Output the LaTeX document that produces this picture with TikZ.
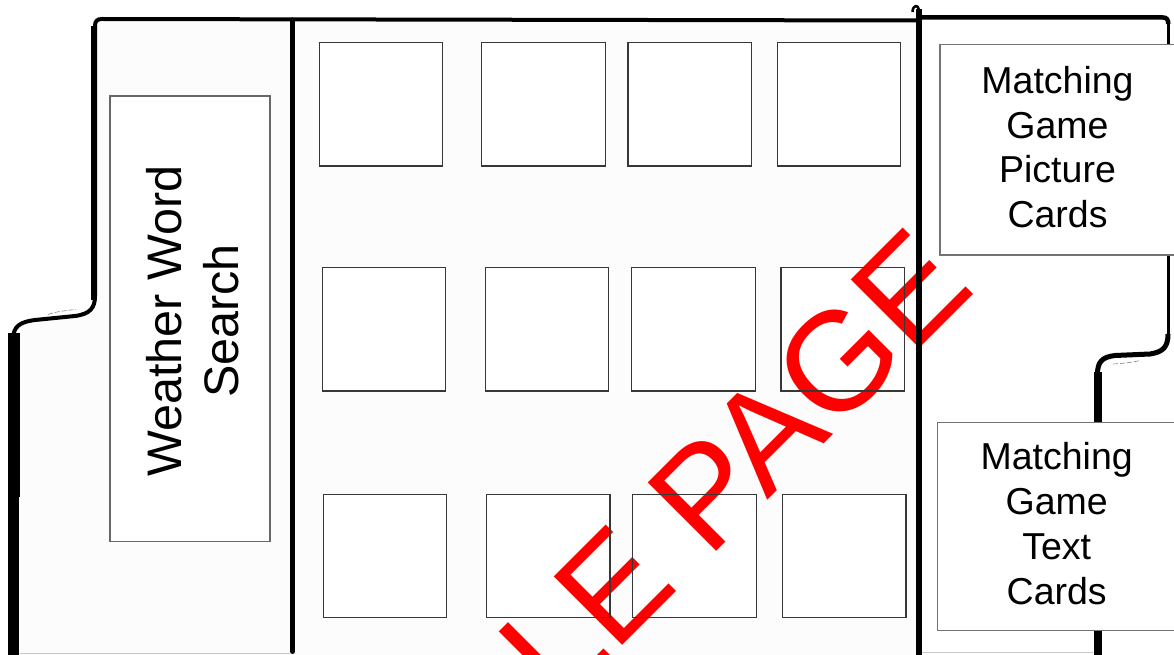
\documentclass[tikz,border=0pt]{standalone}
\usepackage{fontspec}
\newfontfamily\arialf{Liberation Sans}
\definecolor{panelbg}{RGB}{252,252,252}
\definecolor{cardedgecol}{RGB}{55,55,55}
\definecolor{boxedgecol}{RGB}{115,115,115}
\definecolor{faintcol}{RGB}{200,200,200}
\begin{document}
\begin{tikzpicture}[x=1pt,y=-1pt,
  cardbg/.style={fill=white, inner sep=0pt, outer sep=0pt, minimum width=123.5pt, minimum height=123.3pt, anchor=north west},
  cardline/.style={draw=cardedgecol, line width=1.1pt},
  boxbg/.style={fill=white, inner sep=0pt, outer sep=0pt, anchor=north west},
  boxline/.style={draw=boxedgecol, line width=1.4pt},
  heavy/.style={draw=black, line width=#1},
  sketch/.style={draw=gray, line width=0.6pt, dash pattern=on 5pt off 2pt},
  labeltext/.style={align=center, text=black, font=\arialf\fontsize{37.5}{44.8}\selectfont}
]
\useasboundingbox (0,0) rectangle (1174,655);
\clip (0,0) rectangle (1174,655);
\fill[white] (0,0) rectangle (1174,655);
% panel background
\fill[panelbg] (13,656) -- (13,338) .. controls (13,326) and (20,322) .. (35,320) -- (75,316) .. controls (90,314) and (95,308) .. (95,296) -- (95,26) .. controls (95,21) and (97,19) .. (102,19) -- (919,20) -- (919,656) -- cycle;

% box fills
\node[boxbg, minimum width=160pt, minimum height=445.5pt] (wws) at (110,96) {};
\node[boxbg, minimum width=240pt, minimum height=210.7pt] (picbox) at (940,44.3) {};
\node[boxbg, minimum width=242.3pt, minimum height=208.4pt] (txtbox) at (937.7,422.3) {};
\foreach \n/\x/\y in {a1/319.3/42.7, a2/481.7/42.7, a3/628/42.7, a4/777.3/42.7,
                      b1/322.3/267.7, b2/485.4/267.7, b3/631.8/267.7, b4/781/267.7,
                      c1/323.3/494.5, c2/486.5/494.5, c3/632.6/494.5, c4/782.5/494.5}
  \node[cardbg] (card\n) at (\x,\y) {};

% watermark
\node[anchor=base west, rotate=45, text=red, inner sep=0pt, outer sep=0pt,
      font=\arialf\fontsize{140.7}{140.7}\selectfont] (wm) at (277.2,990.9) {SAMPLE PAGE};

% outlines of boxes
\foreach \n in {a1,a2,a3,a4,b1,b2,b3,b4,c1,c2,c3,c4}
  \draw[cardline] (card\n.north west) rectangle (card\n.south east);
\draw[boxline, draw=boxedgecol!90!black] (wws.north west) rectangle (wws.south east);

% faint bottom edge
\draw[faintcol, line width=1pt] (20,653.5) -- (290,653.5);
\draw[faintcol, line width=1pt] (922,652.5) -- (1093,652.5);

% left panel outline
\draw[heavy=4pt, line join=round] (13,340) .. controls (13,326) and (20,322) .. (35,320) -- (75,316) .. controls (90,314) and (95,308) .. (95,296) -- (95,26) .. controls (95,21) and (97,19) .. (102,19) -- (919,20.5);
\draw[heavy=6pt] (94,300) -- (94,26);
\draw[heavy=12pt] (13.5,333) -- (13.5,497);
\draw[heavy=11pt] (13,497) -- (13,656);
\draw[sketch] (48,314.5) .. controls (56,311.5) and (66,310.5) .. (76,309.5);

% middle divider
\draw[heavy=5pt, line cap=round] (292.5,20) -- (292.5,651.5);

% right divider with hook
\draw[heavy=2.5pt] (912.5,12) .. controls (912.5,5) and (918.5,4) .. (919,10);
\draw[heavy=5.5pt] (919,9) -- (919,656);

% right panel outline
\draw[heavy=4.5pt] (919,17.5) -- (1163,17.5) .. controls (1166.5,17.5) and (1168.3,19.5) .. (1168.3,24);
\draw[heavy=3.3pt] (1168.3,22) -- (1168.3,336);
\draw[heavy=5pt, line join=round] (1168,334) .. controls (1168,347) and (1163,352) .. (1150,354) -- (1115,355.5) .. controls (1102,357) and (1097.5,362) .. (1097.5,374);
\draw[heavy=8pt] (1097.5,372) -- (1097.5,656);
\draw[sketch] (1113,364) .. controls (1122,363.5) and (1132,362.5) .. (1140,360.5);

% right boxes (drawn over the outline)
\fill[white] (picbox.north west) rectangle (picbox.south east);
\draw[boxline] (picbox.north west) rectangle (picbox.south east);
\fill[white] (txtbox.north west) rectangle (txtbox.south east);
\draw[boxline] (txtbox.north west) rectangle (txtbox.south east);

% texts
\node[rotate=90, align=center, text=black, font=\arialf\fontsize{48.5}{57}\selectfont] (wwstext) at (193,321) {Weather Word\\Search};
\node[labeltext] (pictext) at (1057.5,147) {Matching\\Game\\Picture\\Cards};
\node[labeltext] (txttext) at (1056.7,523.5) {Matching\\Game\\Text\\Cards};
\end{tikzpicture}
\end{document}
